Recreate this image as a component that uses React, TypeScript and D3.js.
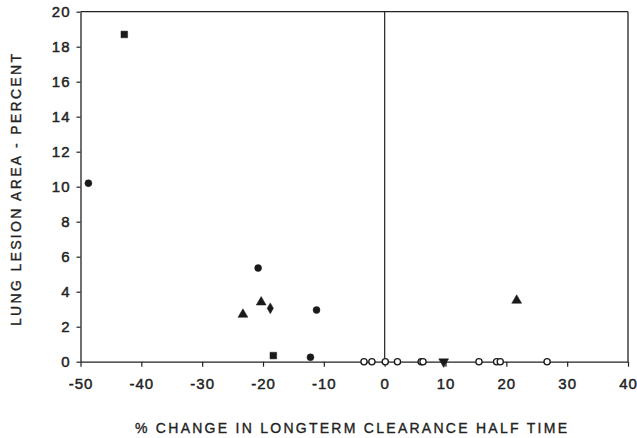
import { useEffect, useRef } from "react";
import * as d3 from "d3";

// values: [percent change, lesion area %]
const filledCircles: [number, number][] = [[-48.7, 10.2], [-20.8, 5.35], [-11.2, 2.95], [-12.2, 0.25]];
const filledSquares: [number, number][] = [[-42.8, 18.7], [-18.3, 0.35]];
const filledTriangles: [number, number][] = [[-23.3, 2.7], [-20.3, 3.4], [21.7, 3.5]];
const diamonds: [number, number][] = [[-18.8, 3.05]];
const downTriangles: [number, number][] = [[9.7, 0]];
const openCircles: [number, number][] = [
	[-3.4, 0], [-2.1, 0], [0.1, 0], [2.1, 0], [6.0, 0], [6.3, 0],
	[15.5, 0], [18.4, 0], [19.0, 0], [26.7, 0]
];

const xTicks = [-50, -40, -30, -20, -10, 0, 10, 20, 30, 40];
const yTicks = [0, 2, 4, 6, 8, 10, 12, 14, 16, 18, 20];

const W = 637;
const H = 438;
const INK = "#222";
const FONT = "'Liberation Sans', Arial, sans-serif";

export default function App() {
	const ref = useRef<SVGSVGElement>(null);

	useEffect(() => {
		const svg = d3.select(ref.current);
		svg.selectAll("*").remove();

		const x = d3.scaleLinear().domain([-50, 40]).range([80.5, 628]);
		const y = d3.scaleLinear().domain([0, 20]).range([361.7, 11.7]);

		const g = svg.append("g");

		// Axes (plain hyphen in labels, as in the original)
		const xAxis = g.append("g")
			.attr("transform", `translate(0,${y(0)})`)
			.call(d3.axisBottom(x).tickValues(xTicks).tickFormat(d => String(d))
				.tickSize(5).tickSizeOuter(0).tickPadding(12));

		const yAxis = g.append("g")
			.attr("transform", `translate(${x(-50)},0)`)
			.call(d3.axisLeft(y).tickValues(yTicks).tickFormat(d => String(d))
				.tickSize(4).tickSizeOuter(0).tickPadding(6));

		[xAxis, yAxis].forEach(a => {
			a.select(".domain").attr("stroke", INK).attr("stroke-width", 1.3);
			a.selectAll(".tick line").attr("stroke", INK).attr("stroke-width", 1.2);
			a.selectAll(".tick text")
				.attr("fill", INK)
				.attr("stroke", INK)
				.attr("stroke-width", 0.45)
				.attr("font-size", "15px")
				.attr("letter-spacing", "1px")
				.attr("font-family", FONT);
		});

		// Frame top/right and zero line
		g.append("line")
			.attr("x1", x(-50)).attr("x2", x(40))
			.attr("y1", y(20)).attr("y2", y(20))
			.attr("stroke", INK).attr("stroke-width", 1.3);
		g.append("line")
			.attr("x1", x(40)).attr("x2", x(40))
			.attr("y1", y(20)).attr("y2", y(0))
			.attr("stroke", INK).attr("stroke-width", 1.3);
		g.append("line")
			.attr("x1", x(0)).attr("x2", x(0))
			.attr("y1", y(20)).attr("y2", y(0))
			.attr("stroke", INK).attr("stroke-width", 1.2);

		// Markers
		const drawSet = (
			data: [number, number][],
			type: d3.SymbolType,
			size: number,
			filled: boolean,
			rotate = 0
		) => {
			g.append("g")
				.selectAll("path")
				.data(data)
				.enter()
				.append("path")
				.attr("d", d3.symbol().type(type).size(size)())
				.attr("transform", d => `translate(${x(d[0])},${y(d[1])}) rotate(${rotate})`)
				.attr("fill", filled ? "#1a1a1a" : "white")
				.attr("stroke", "#1a1a1a")
				.attr("stroke-width", filled ? 0.5 : 1.3);
		};

		drawSet(openCircles, d3.symbolCircle, 30, false);
		drawSet(filledCircles, d3.symbolCircle, 38, true);
		drawSet(filledSquares, d3.symbolSquare, 44, true);
		drawSet(filledTriangles, d3.symbolTriangle, 42, true);
		drawSet(diamonds, d3.symbolDiamond, 34, true);
		drawSet(downTriangles, d3.symbolTriangle, 42, true, 180);

		// Axis titles
		g.append("text")
			.attr("x", 351)
			.attr("y", 433)
			.attr("text-anchor", "middle")
			.attr("font-size", "14px")
			.attr("font-family", FONT)
			.attr("fill", INK)
			.attr("stroke", INK)
			.attr("stroke-width", 0.35)
			.attr("textLength", 432)
			.attr("lengthAdjust", "spacing")
			.text("% CHANGE IN LONGTERM CLEARANCE HALF TIME");

		g.append("text")
			.attr("transform", "translate(20.5,190) rotate(-90)")
			.attr("text-anchor", "middle")
			.attr("font-size", "14px")
			.attr("font-family", FONT)
			.attr("fill", INK)
			.attr("stroke", INK)
			.attr("stroke-width", 0.35)
			.attr("textLength", 272)
			.attr("lengthAdjust", "spacing")
			.text("LUNG LESION AREA - PERCENT");
	}, []);

	return (
		<svg
			ref={ref}
			width={W}
			height={H}
			style={{ position: "absolute", left: 0, top: 0, background: "white" }}
		/>
	);
}
